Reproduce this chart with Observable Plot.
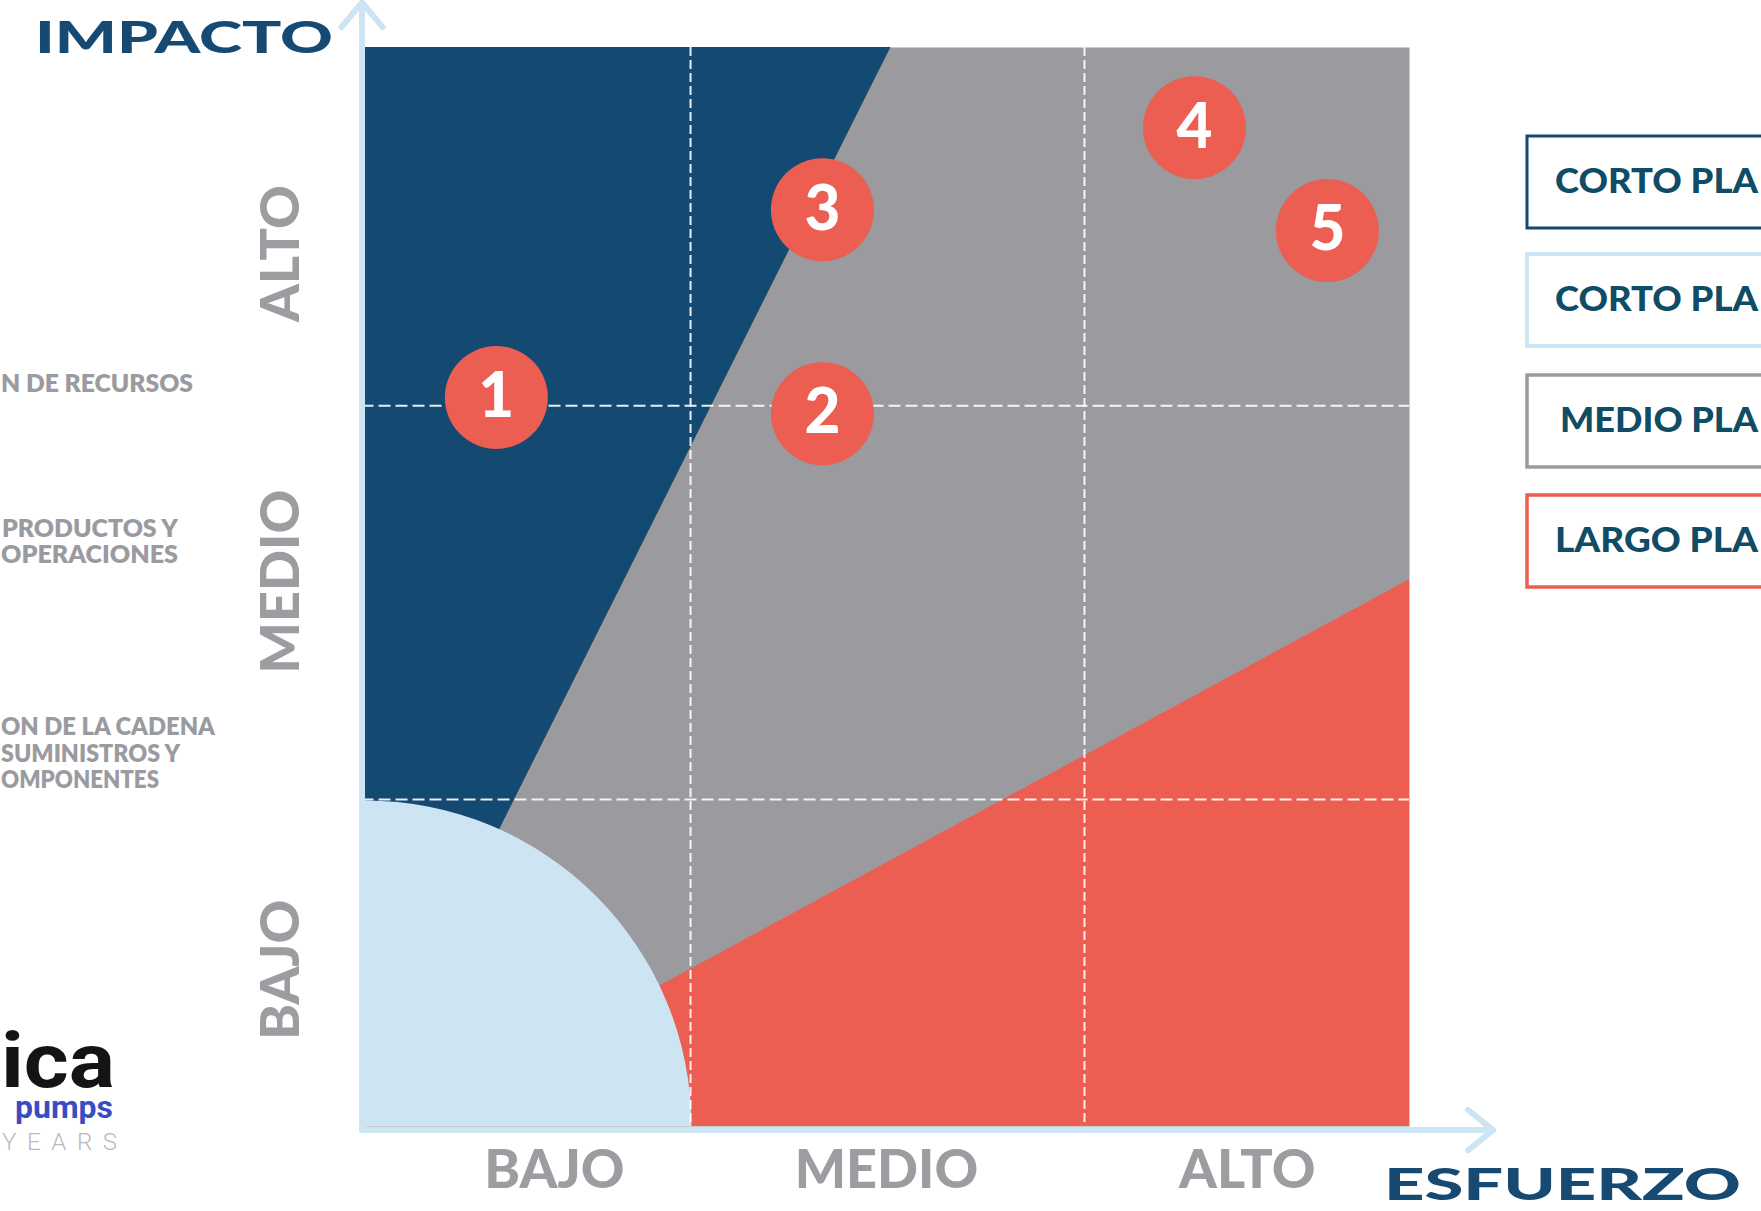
<!DOCTYPE html>
<html><head><meta charset="utf-8">
<script src="https://cdn.jsdelivr.net/npm/d3@7"></script>
<script src="https://cdn.jsdelivr.net/npm/@observablehq/plot@0.6"></script>
<style>
html,body{margin:0;padding:0;background:#fff;overflow:hidden;}
#chart svg{display:block;overflow:hidden;}
</style></head><body><div id="chart"></div>
<script>
// ---- data ----
const levelLabels = ["BAJO", "MEDIO", "ALTO"];
const xLabelPos = [0.543, 1.497, 2.534];
const yLabelPos = [0.436, 1.515, 2.427];
const xGrid = [0.934, 2.066];
const yGrid = [0.909, 2.004];
const initiativeIds = ["1", "2", "3", "4", "5"];
const effortValues = [0.376, 1.313, 1.313, 2.382, 2.764];
const impactValues = [2.027, 1.982, 2.549, 2.777, 2.491];
const shortTermEdgeX = [0, 1.51];
const shortTermEdgeY = [0.08, 3];
const longTermEdgeX = [0.10, 3];
const longTermEdgeY = [0, 1.52];
const quickWinCorner = [{x: 0, y: 0}];
const legendLabels = ["CORTO PLA", "CORTO PLA", "MEDIO PLA", "LARGO PLA"];
const sideLines = ["N DE RECURSOS", "PRODUCTOS Y", "OPERACIONES", "ON DE LA CADENA", "SUMINISTROS Y", "OMPONENTES"];
const yAxisTitle = "IMPACTO";
const xAxisTitle = "ESFUERZO";

// ---- styles / layout ----
const NAVY = "#144a72", GRAY = "#9a9a9f", RED = "#eb5e51", LIGHT = "#cde5f2";
const TICK = "#9c9ca1", TITLE = "#174a72", LEGTXT = "#0f4c66";
const FONT = "Lato, 'Open Sans', sans-serif";
const AX0 = -0.01;

const points = initiativeIds.map((id, i) => ({id, effort: effortValues[i], impact: impactValues[i]}));
const shortTerm = shortTermEdgeX.map((x, i) => ({x, y: shortTermEdgeY[i]}));
const longTerm = longTermEdgeX.map((x, i) => ({x, y: longTermEdgeY[i]}));
const xTicks = levelLabels.map((t, i) => ({t, p: xLabelPos[i]}));
const yTicks = levelLabels.map((t, i) => ({t, p: yLabelPos[i]}));

const chart = Plot.plot({
  width: 1761, height: 1211,
  marginLeft: 365, marginRight: 352, marginTop: 47, marginBottom: 85,
  x: {domain: [0, 3], axis: null},
  y: {domain: [0, 3], axis: null},
  style: {background: "#fff"},
  marks: [
    Plot.frame({fill: GRAY, stroke: "none"}),
    Plot.areaX(shortTerm, {x: "x", y: "y", fill: NAVY}),
    Plot.areaY(longTerm, {x: "x", y: "y", fill: RED}),
    Plot.dot(quickWinCorner, {x: "x", y: "y", r: 326, fill: LIGHT, stroke: "none", clip: true}),
    Plot.ruleX(xGrid, {stroke: "#fff", strokeWidth: 2, strokeDasharray: "9,4", strokeOpacity: 0.9}),
    Plot.ruleY(yGrid, {x1: AX0, x2: 3, stroke: "#fff", strokeWidth: 2, strokeDasharray: "12,5", strokeOpacity: 0.9}),
    Plot.arrow([{x1: AX0, y1: AX0, x2: AX0, y2: 3.125}], {x1: "x1", y1: "y1", x2: "x2", y2: "y2", stroke: LIGHT, strokeWidth: 6, headAngle: 80, headLength: 8}),
    Plot.arrow([{x1: AX0, y1: AX0, x2: 3.24, y2: AX0}], {x1: "x1", y1: "y1", x2: "x2", y2: "y2", stroke: LIGHT, strokeWidth: 6, headAngle: 78, headLength: 8}),
    Plot.dot(points, {x: "effort", y: "impact", r: 51.5, fill: RED, stroke: "none"}),
    Plot.text(points, {x: "effort", y: "impact", text: "id", fill: "#fff", fontSize: 62, fontWeight: 900, fontFamily: FONT}),
    Plot.text(xTicks, {x: "p", text: "t", frameAnchor: "bottom", dy: 44, lineAnchor: "middle", textAnchor: "middle", fill: TICK, fontSize: 54, fontWeight: 900, fontFamily: FONT}),
    Plot.text(yTicks, {y: "p", text: "t", frameAnchor: "left", dx: -84, rotate: -90, lineAnchor: "middle", textAnchor: "middle", fill: TICK, fontSize: 54, fontWeight: 900, fontFamily: FONT})
  ]
});
document.getElementById("chart").appendChild(chart);

// ---- decorations (titles, side notes, logo, legend) ----
const svg = d3.select(chart);
const deco = svg.append("g").attr("font-family", FONT).attr("text-anchor", "start");

deco.append("text").text(yAxisTitle)
  .attr("x", 35).attr("y", 53).attr("font-size", 43).attr("font-weight", 900)
  .attr("fill", TITLE).attr("textLength", 298).attr("lengthAdjust", "spacingAndGlyphs");
deco.append("text").text(xAxisTitle)
  .attr("x", 1384).attr("y", 1200).attr("font-size", 44).attr("font-weight", 900)
  .attr("fill", TITLE).attr("textLength", 357).attr("lengthAdjust", "spacingAndGlyphs");

const sideLeft = [1, 2, 1, 1, 1, 1];
const sideRight = [193, 178, 178, 215, 180, 159];
const sideBase = [392, 537, 563, 735, 762, 788];
sideLines.forEach((s, i) => {
  deco.append("text").text(s)
    .attr("x", sideLeft[i]).attr("y", sideBase[i]).attr("font-size", 24).attr("font-weight", 800)
    .attr("fill", "#9a9ba0").attr("textLength", sideRight[i] - sideLeft[i]).attr("lengthAdjust", "spacingAndGlyphs");
});

// logo fragment
const LOGOFONT = "Roboto, 'Liberation Sans', sans-serif";
deco.append("text").text("ica")
  .attr("x", 1).attr("y", 1087).attr("font-size", 76).attr("font-weight", 700)
  .attr("font-family", LOGOFONT)
  .attr("fill", "#141414").attr("textLength", 114).attr("lengthAdjust", "spacingAndGlyphs");
deco.append("text").text("pumps")
  .attr("x", 15).attr("y", 1118).attr("font-size", 31).attr("font-weight", 700)
  .attr("font-family", LOGOFONT)
  .attr("fill", "#3a4cc4").attr("textLength", 98).attr("lengthAdjust", "spacingAndGlyphs");
deco.append("text").text("YEARS")
  .attr("x", 2).attr("y", 1150).attr("font-size", 24).attr("font-weight", 300)
  .attr("font-family", LOGOFONT)
  .attr("fill", "#b9b9bd").attr("textLength", 115).attr("lengthAdjust", "spacing");

// legend boxes
const legendStroke = [NAVY, LIGHT, GRAY, RED];
const legendStrokeW = [3, 4, 3.5, 3.5];
const legendTop = [136, 254, 375, 495];
const legendTextX = [1555, 1555, 1560, 1555];
legendLabels.forEach((s, i) => {
  deco.append("rect")
    .attr("x", 1527).attr("y", legendTop[i]).attr("width", 300).attr("height", 92)
    .attr("fill", "#fff").attr("stroke", legendStroke[i]).attr("stroke-width", legendStrokeW[i]);
  deco.append("text").text(s)
    .attr("x", legendTextX[i]).attr("y", legendTop[i] + 57).attr("font-size", 35).attr("font-weight", 900)
    .attr("fill", LEGTXT).attr("textLength", 1758 - legendTextX[i]).attr("lengthAdjust", "spacingAndGlyphs");
});
</script></body></html>
